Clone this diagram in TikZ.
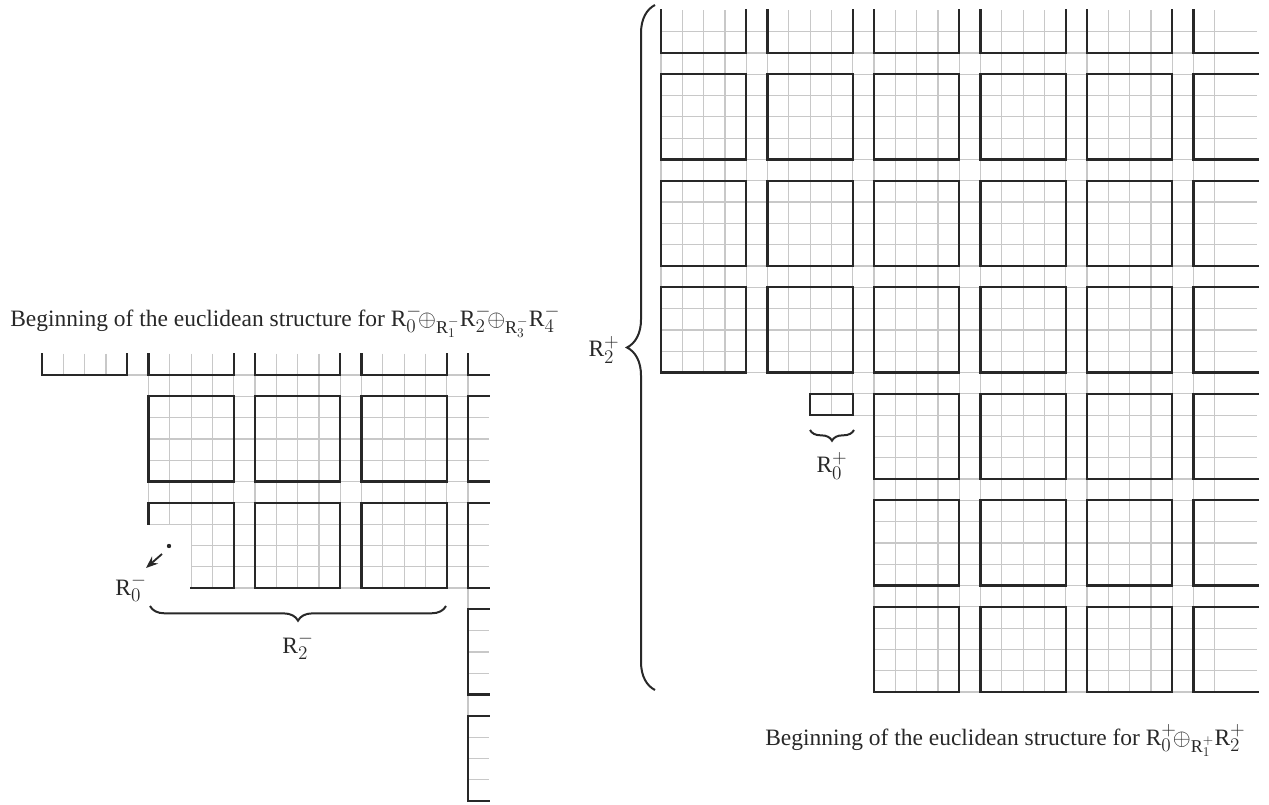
\documentclass[tikz,border=0pt]{standalone}
\usepackage{fontspec}
\setmainfont{Liberation Serif}
\usetikzlibrary{decorations.pathreplacing,arrows.meta}
\DeclareMathSizes{17.6}{17.6}{13.5}{10}
\definecolor{gridc}{RGB}{200,200,200}
\definecolor{inkc}{RGB}{40,40,40}
\tikzset{
  gridl/.style={draw=gridc,line width=0.9pt},
  thickl/.style={draw=inkc,line width=1.7pt,line cap=rect},
  bracel/.style={draw=inkc,line width=1.5pt,decorate},
  lbl/.style={inner sep=0pt,font=\fontsize{17.6}{21}\selectfont,text=inkc},
}
\begin{document}
\begin{tikzpicture}[x=0.75pt,y=-0.75pt]
\useasboundingbox (0,0) rectangle (1269,805);
% ---------------- left diagram ----------------
\begin{scope}[shift={(42,375)}]
\begin{scope}[x=15.975pt,y=-15.975pt]
  \foreach \i in {0,...,20} \draw[gridl] (\i,-1)--(\i,0);
  \foreach \i in {7,...,20} \draw[gridl] (\i,0)--(\i,10);
  \foreach \i in {5,6} \draw[gridl] (\i,0)--(\i,7);
  \draw[gridl] (0,0)--(21,0);
  \foreach \j in {1,...,7} \draw[gridl] (5,\j)--(21,\j);
  \foreach \j in {8,9,10} \draw[gridl] (7,\j)--(21,\j);
  \draw[gridl] (20,10)--(20,20);
  \foreach \j in {11,...,20} \draw[gridl] (20,\j)--(21,\j);
  % thick
  \foreach \c in {0,5,10,15} \draw[thickl] (\c,-1)--(\c,0)--(\c+4,0)--(\c+4,-1);
  \draw[thickl] (20,-1)--(20,0)--(21,0);
  \foreach \c in {5,10,15} \draw[thickl] (\c,1) rectangle (\c+4,5);
  \draw[thickl] (21,1)--(20,1)--(20,5)--(21,5);
  \draw[thickl] (5,7)--(5,6)--(9,6)--(9,10)--(7,10);
  \foreach \c in {10,15} \draw[thickl] (\c,6) rectangle (\c+4,10);
  \draw[thickl] (21,6)--(20,6)--(20,10)--(21,10);
  \draw[thickl] (21,11)--(20,11)--(20,15)--(21,15);
  \draw[thickl] (21,16)--(20,16)--(20,20)--(21,20);
\end{scope}
\end{scope}
% ---------------- right diagram ----------------
\begin{scope}[shift={(661,53)}]
\begin{scope}[x=15.975pt,y=-15.975pt]
  \foreach \i in {0,...,6} \draw[gridl] (\i,-2)--(\i,15);
  \foreach \i in {7,8,9} \draw[gridl] (\i,-2)--(\i,17);
  \foreach \i in {10,...,26} \draw[gridl] (\i,-2)--(\i,30);
  \foreach \j in {-1,...,15} \draw[gridl] (0,\j)--(28,\j);
  \foreach \j in {16,17} \draw[gridl] (7,\j)--(28,\j);
  \foreach \j in {18,...,30} \draw[gridl] (10,\j)--(28,\j);
  % thick
  \foreach \c in {0,5,10,15,20} \draw[thickl] (\c,-2)--(\c,0)--(\c+4,0)--(\c+4,-2);
  \draw[thickl] (25,-2)--(25,0)--(28,0);
  \foreach \r in {1,6,11} {
    \foreach \c in {0,5,10,15,20} \draw[thickl] (\c,\r) rectangle (\c+4,\r+4);
    \draw[thickl] (28,\r)--(25,\r)--(25,\r+4)--(28,\r+4);
  }
  \foreach \r in {16,21,26} {
    \foreach \c in {10,15,20} \draw[thickl] (\c,\r) rectangle (\c+4,\r+4);
    \draw[thickl] (28,\r)--(25,\r)--(25,\r+4)--(28,\r+4);
  }
  \draw[thickl] (7,16) rectangle (9,17);
\end{scope}
\end{scope}
% ---------------- labels ----------------
\node[lbl,anchor=base west] (titleL) at (10,326)
  {Beginning of the euclidean structure for $\mathrm{R}_0^-\!{\oplus}_{\mathrm{R}_1^-}\mathrm{R}_2^-\!{\oplus}_{\mathrm{R}_3^-}\mathrm{R}_4^-$};
\node[lbl,anchor=base west] (titleR) at (765,745)
  {Beginning of the euclidean structure for $\mathrm{R}_0^+\!{\oplus}_{\mathrm{R}_1^+}\mathrm{R}_2^+$};
% left: dot, arrow, R0-
\fill[inkc] (169,546) circle (2.2);
\node[lbl] (r0m) at (131,588) {$\mathrm{R}_0^-$};
\coordinate (arrT) at (162,554);
\coordinate (arrH) at (146,568);
\draw[inkc,line width=1.4pt,-{Stealth[length=9pt,width=7pt]}] (arrT) -- (arrH);
% left brace R2-
\coordinate (bL1) at (446,606);
\coordinate (bL2) at (150,606);
\draw[bracel,decoration={brace,amplitude=11}] (bL1) -- (bL2);
\node[lbl] (r2m) at (298,646) {$\mathrm{R}_2^-$};
% right big brace R2+
\coordinate (bR1) at (655,690);
\coordinate (bR2) at (655,5);
\draw[bracel,decoration={brace,amplitude=21}] (bR1) -- (bR2);
\node[lbl] (r2p) at (604,350) {$\mathrm{R}_2^+$};
% small brace R0+
\coordinate (bS1) at (854,430);
\coordinate (bS2) at (810,430);
\draw[bracel,decoration={brace,amplitude=8}] (bS1) -- (bS2);
\node[lbl] (r0p) at (832,466) {$\mathrm{R}_0^+$};
\end{tikzpicture}
\end{document}
